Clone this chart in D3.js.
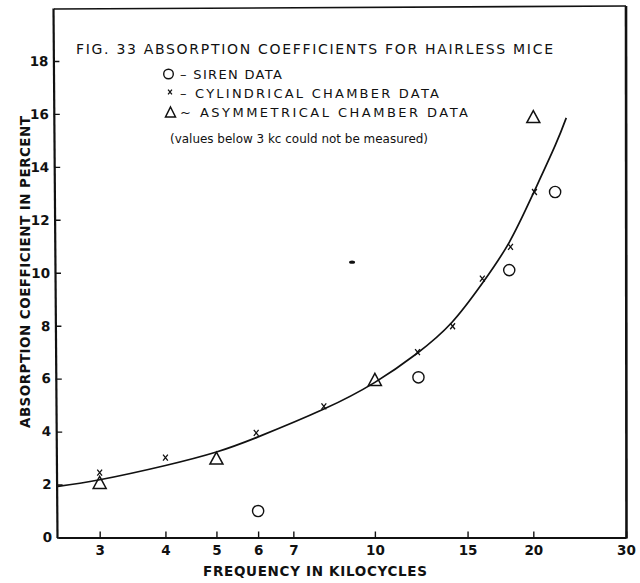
<!DOCTYPE html>
<html>
<head>
<meta charset="utf-8">
<script src="https://cdn.jsdelivr.net/npm/d3@7/dist/d3.min.js"></script>
<style>
  html, body { margin: 0; padding: 0; background: #fff; }
  svg { display: block; }
  text { font-family: "DejaVu Sans", "Liberation Sans", sans-serif; fill: #111; }
</style>
</head>
<body>
<svg id="chart" width="640" height="583"></svg>
<script>
// Fig. 33 — absorption coefficients for hairless mice (log frequency axis)
const xTicks = [3, 4, 5, 6, 7, 10, 15, 20, 30];
const yTicks = [0, 2, 4, 6, 8, 10, 12, 14, 16, 18];

// Siren data: [frequency kc, absorption %]
const sirenFreq  = [6, 12.1, 18, 22];
const sirenValue = [1.0, 6.05, 10.1, 13.05];

// Cylindrical chamber data
const cylFreq  = [3, 4, 5.95, 8, 12.05, 14.05, 16, 18.1, 20.1];
const cylValue = [2.45, 3.02, 3.95, 4.95, 7.0, 7.98, 9.78, 10.98, 13.05];

// Asymmetrical chamber data
const asymFreq  = [3, 5, 10, 20];
const asymValue = [2.08, 3.0, 5.97, 15.9];

// Isolated mark near 9 kc
const strayFreq  = [9.05];
const strayValue = [10.4];

// Hand-fitted smooth curve through the measurements
const curveFreq  = [2.5, 3, 4, 5, 6, 8, 10, 12, 14, 16, 18, 20, 22, 23.1];
const curveValue = [1.93, 2.18, 2.72, 3.23, 3.8, 4.85, 5.86, 6.94, 8.12, 9.6, 11.15, 13.0, 14.8, 15.85];

const legendItems = [
  { kind: "circle",   label: "– SIREN DATA" },
  { kind: "cross",    label: "– CYLINDRICAL CHAMBER DATA" },
  { kind: "triangle", label: "~ ASYMMETRICAL CHAMBER DATA" }
];

const svg = d3.select("#chart");
const plotLeft = 58, plotRight = 626, plotBottom = 537.5, plotTop = 8;

const x = d3.scaleLog().domain([2.5, 30]).range([plotLeft, plotRight]);
const y = d3.scaleLinear().domain([0, 20]).range([plotBottom, plotTop]);

const ink = "#111";

// stretch a text run to a given width, widening the letter spacing when possible
function fitText(sel, width) {
  const natural = sel.node().getComputedTextLength();
  sel.attr("textLength", width)
     .attr("lengthAdjust", natural < width ? "spacing" : "spacingAndGlyphs");
  return sel;
}

// marker shapes
function circleMark(g, cx, cy, r) {
  g.append("circle").attr("cx", cx).attr("cy", cy).attr("r", r)
    .attr("fill", "none").attr("stroke", ink).attr("stroke-width", 1.4);
}
function crossMark(g, cx, cy, s) {
  g.append("path")
    .attr("d", `M${cx - s * 0.8},${cy - s}L${cx + s * 0.8},${cy + s}M${cx + s * 0.8},${cy - s}L${cx - s * 0.8},${cy + s}`)
    .attr("fill", "none").attr("stroke", ink).attr("stroke-width", 1.3);
}
function triangleMark(g, cx, cy, w, h) {
  g.append("path")
    .attr("d", `M${cx},${cy - h / 2}L${cx + w / 2},${cy + h / 2}L${cx - w / 2},${cy + h / 2}Z`)
    .attr("fill", "none").attr("stroke", ink).attr("stroke-width", 1.5).attr("stroke-linejoin", "miter");
}

// frame: top and right edges
svg.append("line").attr("x1", 54).attr("y1", 9).attr("x2", plotRight).attr("y2", 6)
  .attr("stroke", ink).attr("stroke-width", 1.6);
svg.append("line").attr("x1", plotRight).attr("y1", 6).attr("x2", plotRight + 0.5).attr("y2", plotBottom + 1)
  .attr("stroke", ink).attr("stroke-width", 2.6);

// x axis (ticks point inward)
const xAxis = d3.axisBottom(x).tickValues(xTicks).tickFormat(d3.format("d"))
  .tickSizeInner(-6).tickSizeOuter(0).tickPadding(8);
const gx = svg.append("g").attr("transform", `translate(0,${plotBottom})`).call(xAxis);
gx.select(".domain").attr("stroke", ink).attr("stroke-width", 2.2);
gx.selectAll(".tick line").attr("stroke", ink).attr("stroke-width", 1.4);
gx.selectAll(".tick text").attr("font-size", 13.5).attr("font-weight", "bold")
  .attr("fill", ink).style("font-family", "'DejaVu Sans', sans-serif");

// y axis, leaning slightly as on the original sheet
const lean = Math.atan(4 / (plotBottom - plotTop)) * 180 / Math.PI;
const yAxis = d3.axisLeft(y).tickValues(yTicks).tickFormat(d3.format("d"))
  .tickSizeInner(-6).tickSizeOuter(0).tickPadding(5);
const gy = svg.append("g")
  .attr("transform", `translate(${plotLeft - 1},${plotBottom}) skewX(${lean}) translate(0,${-plotBottom})`)
  .call(yAxis);
gy.select(".domain").attr("stroke", ink).attr("stroke-width", 2.2);
gy.selectAll(".tick line").attr("stroke", ink).attr("stroke-width", 1.4);
gy.selectAll(".tick text").attr("font-size", 13.5).attr("font-weight", "bold")
  .attr("fill", ink).style("font-family", "'DejaVu Sans', sans-serif");

// axis titles
fitText(svg.append("text").attr("x", 203).attr("y", 576)
  .attr("font-size", 13.5).attr("font-weight", "bold")
  .text("FREQUENCY IN KILOCYCLES"), 224);
fitText(svg.append("text").attr("transform", "translate(30,428) rotate(-90)")
  .attr("font-size", 13.5).attr("font-weight", "bold")
  .text("ABSORPTION COEFFICIENT IN PERCENT"), 312);

// title, legend and note
fitText(svg.append("text").attr("x", 76).attr("y", 54).attr("font-size", 14)
  .text("FIG. 33  ABSORPTION COEFFICIENTS FOR HAIRLESS MICE"), 477);

const legend = svg.append("g");
const legendRows = [79, 98, 117];
const legendWidths = [102, 259, 288];
legendItems.forEach((item, i) => {
  const by = legendRows[i];
  const cy = by - 5;
  if (item.kind === "circle") circleMark(legend, 168.5, cy, 4.8);
  else if (item.kind === "cross") crossMark(legend, 170, cy - 1, 2.4);
  else triangleMark(legend, 170.5, cy, 10, 10);
  fitText(legend.append("text").attr("x", 180).attr("y", by).attr("font-size", 13)
    .text(item.label), legendWidths[i]);
});
fitText(svg.append("text").attr("x", 170).attr("y", 143).attr("font-size", 12.5)
  .text("(values below 3 kc could not be measured)"), 258);

// fitted curve
const curvePts = curveFreq.map((f, i) => [f, curveValue[i]]);
svg.append("path").datum(curvePts)
  .attr("d", d3.line().x(d => x(d[0])).y(d => y(d[1])).curve(d3.curveNatural))
  .attr("fill", "none").attr("stroke", ink).attr("stroke-width", 1.7);

// data marks
const marks = svg.append("g");
sirenFreq.forEach((f, i) => circleMark(marks, x(f), y(sirenValue[i]), 5.6));
cylFreq.forEach((f, i) => crossMark(marks, x(f), y(cylValue[i]), 3));
asymFreq.forEach((f, i) => triangleMark(marks, x(f), y(asymValue[i]), 13, 12));
strayFreq.forEach((f, i) => {
  marks.append("ellipse").attr("cx", x(f)).attr("cy", y(strayValue[i]))
    .attr("rx", 3).attr("ry", 1.6).attr("fill", ink);
});
</script>
</body>
</html>
